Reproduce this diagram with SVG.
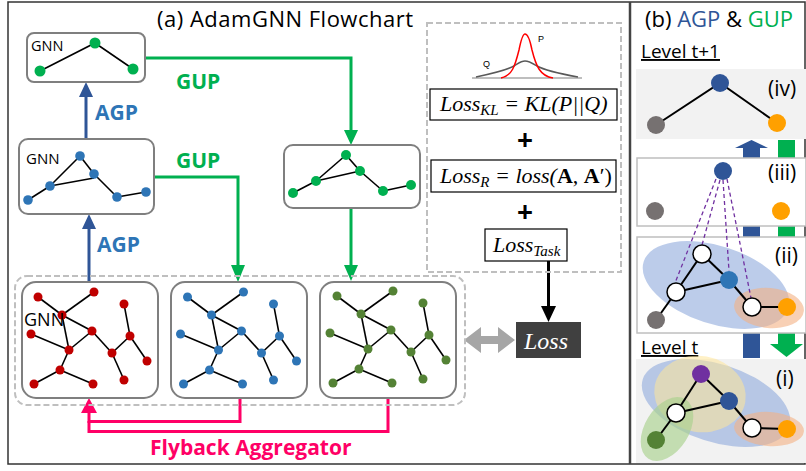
<svg xmlns="http://www.w3.org/2000/svg" xmlns:xlink="http://www.w3.org/1999/xlink" width="806" height="471" viewBox="0 0 806 471">
<style>
.box{fill:#fff;stroke:#7f7f7f;stroke-width:2}
.e{stroke:#000;stroke-width:1.6;fill:none}
.e2{stroke:#000;stroke-width:2;fill:none}
.lbl{font-family:"Open Sans","Liberation Sans",sans-serif;fill:#000}
.bold{font-family:"Open Sans","Liberation Sans",sans-serif;font-weight:bold}
.math{font-family:"Liberation Serif","DejaVu Serif",serif;font-style:italic;font-size:22px;fill:#000}
.agp{stroke:#2f5597;stroke-width:3;fill:none}
.gup{stroke:#00b050;stroke-width:3;fill:none}
.fly{stroke:#ff0066;stroke-width:3;fill:none}
.dash{fill:none;stroke:#bfbfbf;stroke-width:2;stroke-dasharray:6 3}
.pd{stroke:#7030a0;stroke-width:1.3;stroke-dasharray:4 3;fill:none}
.wn{fill:#fff;stroke:#000;stroke-width:1.5}
</style>
<defs>
<g id="big">
<g class="e">
<line x1="38" y1="297" x2="62" y2="315"/>
<line x1="94" y1="292" x2="62" y2="315"/>
<line x1="62" y1="315" x2="92" y2="331"/>
<line x1="62" y1="315" x2="69" y2="350"/>
<line x1="31" y1="334" x2="69" y2="350"/>
<line x1="69" y1="350" x2="92" y2="331"/>
<line x1="92" y1="331" x2="112" y2="353"/>
<line x1="112" y1="353" x2="130" y2="336"/>
<line x1="130" y1="336" x2="124" y2="304"/>
<line x1="130" y1="336" x2="147" y2="361"/>
<line x1="112" y1="353" x2="124" y2="380"/>
<line x1="69" y1="350" x2="60" y2="370"/>
<line x1="60" y1="370" x2="34" y2="384"/>
<line x1="60" y1="370" x2="93" y2="384"/>
</g>
<g fill="currentColor">
<circle cx="38" cy="297" r="4.5"/><circle cx="94" cy="292" r="4.5"/><circle cx="124" cy="304" r="4.5"/>
<circle cx="62" cy="315" r="4.5"/><circle cx="31" cy="334" r="4.5"/><circle cx="92" cy="331" r="4.5"/>
<circle cx="130" cy="336" r="4.5"/><circle cx="69" cy="350" r="4.5"/><circle cx="112" cy="353" r="4.5"/>
<circle cx="147" cy="361" r="4.5"/><circle cx="60" cy="370" r="4.5"/><circle cx="34" cy="384" r="4.5"/>
<circle cx="93" cy="384" r="4.5"/><circle cx="124" cy="380" r="4.5"/>
</g>
</g>
</defs>
<rect x="0" y="0" width="806" height="471" fill="#fff"/>
<rect x="8" y="2" width="797" height="462" fill="none" stroke="#333" stroke-width="1.5"/>
<line x1="630" y1="2" x2="630" y2="464" stroke="#444" stroke-width="2.5"/>

<text class="lbl" x="157" y="27" font-size="22" textLength="256">(a) AdamGNN Flowchart</text>

<g id="connectors">
<line class="agp" x1="86" y1="139" x2="86" y2="96"/>
<polygon points="79,97 93,97 86,82" fill="#2f5597"/>
<line class="agp" x1="89" y1="282" x2="89" y2="228"/>
<polygon points="82,229 96,229 89,214" fill="#2f5597"/>
<polyline class="gup" points="145,58 351,58 351,131"/>
<polygon points="344,130 358,130 351,145" fill="#00b050"/>
<polyline class="gup" points="154,177 238,177 238,266"/>
<polygon points="231,265 245,265 238,282" fill="#00b050"/>
<line class="gup" x1="351" y1="208" x2="351" y2="266"/>
<polygon points="344,265 358,265 351,281" fill="#00b050"/>
<polyline class="fly" points="240,398 240,421.5 89,421.5 89,412"/>
<polyline class="fly" points="388,398 388,431.5 89,431.5 89,421"/>
<polygon points="81,413 97,413 89,398" fill="#ff0066"/>
<line x1="548.5" y1="261" x2="548.5" y2="307" stroke="#000" stroke-width="3"/>
<polygon points="541,306 556,306 548.5,322" fill="#000"/>
<polygon points="464,340 481,327 481,336 498,336 498,327 515,340 498,353 498,344 481,344 481,353" fill="#a6a6a6"/>
</g>

<text class="bold" x="95" y="120" font-size="21" fill="#2e75b6">AGP</text>
<text class="bold" x="97" y="252" font-size="21" fill="#2e75b6">AGP</text>
<text class="bold" x="176" y="89" font-size="21" fill="#00b050">GUP</text>
<text class="bold" x="176" y="168" font-size="21" fill="#00b050">GUP</text>
<text class="bold" x="150" y="455" font-size="21" fill="#ff0066">Flyback Aggregator</text>

<g id="gnn-top">
<rect class="box" x="27" y="33" width="118" height="49" rx="7"/>
<text class="lbl" x="31" y="51" font-size="14.5">GNN</text>
<polyline class="e" points="40,71 95,43 133,69"/>
<g fill="#00b050"><circle cx="40" cy="71" r="5.5"/><circle cx="95" cy="43" r="5.5"/><circle cx="133" cy="69" r="5.5"/></g>
</g>

<g id="gnn-mid">
<rect class="box" x="19" y="139" width="135" height="75" rx="9"/>
<text class="lbl" x="26" y="164" font-size="15">GNN</text>
<g class="e">
<line x1="28" y1="200" x2="50" y2="186"/><line x1="50" y1="186" x2="80" y2="156"/><line x1="80" y1="156" x2="94" y2="174"/>
<line x1="50" y1="186" x2="94" y2="178"/><line x1="94" y1="174" x2="117" y2="197"/><line x1="117" y1="197" x2="146" y2="192"/>
</g>
<g fill="#2e75b6"><circle cx="28" cy="200" r="4.8"/><circle cx="50" cy="186" r="4.8"/><circle cx="80" cy="156" r="4.8"/><circle cx="94" cy="174" r="4.8"/><circle cx="117" cy="197" r="4.8"/><circle cx="146" cy="192" r="4.8"/></g>
</g>

<g id="gup-mid">
<rect class="box" x="284" y="145" width="136" height="63" rx="9"/>
<g class="e">
<line x1="293" y1="193" x2="316" y2="181"/><line x1="316" y1="181" x2="346" y2="155"/><line x1="346" y1="155" x2="360" y2="171"/>
<line x1="316" y1="181" x2="360" y2="171"/><line x1="360" y1="171" x2="383" y2="191"/><line x1="383" y1="191" x2="411" y2="185"/>
</g>
<g fill="#00b050"><circle cx="293" cy="193" r="5"/><circle cx="316" cy="181" r="5"/><circle cx="346" cy="155" r="5"/><circle cx="360" cy="171" r="5"/><circle cx="383" cy="191" r="5"/><circle cx="411" cy="185" r="5"/></g>
</g>

<rect class="dash" x="15" y="276" width="450" height="129" rx="12"/>

<g id="bottom-red">
<rect class="box" x="22" y="282" width="136" height="116" rx="14"/>
<use xlink:href="#big" color="#c00000"/>
<text class="lbl" x="24" y="326" font-size="18">GNN</text>
</g>
<g id="bottom-blue">
<rect class="box" x="171" y="282" width="136" height="116" rx="14"/>
<use xlink:href="#big" color="#2e75b6" transform="translate(149.5,0)"/>
</g>
<g id="bottom-green">
<rect class="box" x="320" y="282" width="136" height="116" rx="14"/>
<use xlink:href="#big" color="#548235" transform="translate(299,-1)"/>
</g>

<rect class="dash" x="427" y="23" width="194" height="249"/>
<g id="dist">
<line x1="472" y1="78" x2="582" y2="78" stroke="#7f7f7f" stroke-width="1.2"/>
<path d="M476,77 C495,73 507,70 514,66 C519,63 521,61 525,61 C529,61 532,63 537,66 C544,70 556,73 578,77" fill="none" stroke="#595959" stroke-width="1.5"/>
<path d="M501,78 C512,76 515,66 519,50 C521,40 523,34 525,34 C528,34 530,40 532,50 C536,66 540,76 553,78" fill="none" stroke="#ff0000" stroke-width="1.5"/>
<text x="483" y="67" font-family="Liberation Sans,Arial,sans-serif" font-size="9">Q</text>
<text x="538" y="42" font-family="Liberation Sans,Arial,sans-serif" font-size="9">P</text>
</g>
<g id="loss-kl">
<rect x="430" y="89" width="187" height="31" fill="#fff" stroke="#000" stroke-width="1.2"/>
<text class="math" x="440" y="111">Loss<tspan font-size="15" dy="4">KL</tspan><tspan dy="-4"> = KL(P||Q)</tspan></text>
</g>
<text class="bold" x="525" y="150" font-size="28" text-anchor="middle">+</text>
<g id="loss-r">
<rect x="431" y="160" width="185" height="32" fill="#fff" stroke="#000" stroke-width="1.2"/>
<text class="math" x="440" y="183">Loss<tspan font-size="15" dy="4">R</tspan><tspan dy="-4"> = loss(</tspan><tspan font-style="normal" font-weight="bold">A</tspan><tspan font-style="normal">, </tspan><tspan font-style="normal" font-weight="bold">A</tspan><tspan font-style="normal">′)</tspan></text>
</g>
<text class="bold" x="525" y="222" font-size="28" text-anchor="middle">+</text>
<g id="loss-task">
<rect x="485" y="229" width="82" height="32" fill="#fff" stroke="#000" stroke-width="1.2"/>
<text class="math" x="493" y="252">Loss<tspan font-size="15" dy="4">Task</tspan></text>
</g>
<g id="loss">
<rect x="516" y="322" width="65" height="36" fill="#404040"/>
<text class="math" x="524" y="349" style="fill:#fff;font-size:24px">Loss</text>
</g>

<text class="lbl" x="645" y="27" font-size="22">(b) <tspan fill="#2f5597">AGP</tspan> &amp; <tspan fill="#00b050">GUP</tspan></text>
<text class="lbl" x="641" y="58" font-size="19" text-decoration="underline">Level t+1</text>
<text class="lbl" x="641" y="354" font-size="19" text-decoration="underline">Level t</text>

<rect x="743" y="148" width="17" height="210" fill="#2f5597"/>
<polygon points="735,148 768,148 751.5,140" fill="#2f5597"/>
<rect x="778" y="140" width="17" height="205" fill="#00b050"/>
<polygon points="770,344 803,344 786.5,357" fill="#00b050"/>

<g id="panel-iv">
<rect x="636" y="69" width="170" height="70" fill="#f2f2f2"/>
<polyline class="e2" points="656,125 720,83 777,123"/>
<circle cx="656" cy="125" r="9" fill="#767171"/>
<circle cx="720" cy="83" r="9" fill="#2f5597"/>
<circle cx="777" cy="123" r="9" fill="#ffa000"/>
<text class="lbl" x="768" y="96" font-size="21">(iv)</text>
</g>

<g id="panel-iii">
<rect x="637" y="158" width="169" height="68" fill="#fff" stroke="#bfbfbf" stroke-width="1.5"/>
<text class="lbl" x="768" y="180" font-size="21">(iii)</text>
</g>

<g id="panel-ii">
<rect x="637" y="237" width="169" height="96" fill="#fff" stroke="#bfbfbf" stroke-width="1.5"/>
<ellipse cx="716" cy="285" rx="76" ry="39" transform="rotate(18 716 285)" fill="#8faadc" opacity="0.6"/>
<ellipse cx="769" cy="308" rx="35" ry="20" transform="rotate(5 769 308)" fill="#f4b183" opacity="0.6"/>
<g class="e2">
<line x1="702" y1="254" x2="676" y2="292"/><line x1="702" y1="254" x2="729" y2="280"/><line x1="676" y1="292" x2="729" y2="280"/>
<line x1="729" y1="280" x2="752" y2="307"/><line x1="752" y1="307" x2="787" y2="307"/><line x1="676" y1="292" x2="656" y2="320"/>
</g>
<text class="lbl" x="775" y="263" font-size="21">(ii)</text>
</g>

<g id="purple-dashes">
<line class="pd" x1="716" y1="179" x2="675" y2="283"/>
<line class="pd" x1="720" y1="180" x2="702" y2="245"/>
<line class="pd" x1="723" y1="180" x2="729" y2="271"/>
<line class="pd" x1="727" y1="179" x2="751" y2="298"/>
</g>

<g id="nodes-iii">
<circle cx="723" cy="171" r="9" fill="#2f5597"/>
<circle cx="655" cy="211" r="9" fill="#767171"/>
<circle cx="781" cy="211" r="9" fill="#ffa000"/>
</g>
<g id="nodes-ii">
<circle class="wn" cx="702" cy="254" r="9"/>
<circle class="wn" cx="676" cy="292" r="9"/>
<circle cx="729" cy="280" r="9" fill="#2e75b6"/>
<circle class="wn" cx="752" cy="307" r="9"/>
<circle cx="787" cy="307" r="9" fill="#ffa000"/>
<circle cx="656" cy="320" r="9" fill="#767171"/>
</g>

<g id="panel-i">
<rect x="636" y="359" width="170" height="104" fill="#f2f2f2"/>
<ellipse cx="716" cy="403" rx="77" ry="39" transform="rotate(18 716 403)" fill="#8faadc" opacity="0.6"/>
<ellipse cx="700" cy="394" rx="46" ry="38" transform="rotate(10 700 394)" fill="#ffe699" opacity="0.55"/>
<ellipse cx="667" cy="429" rx="35" ry="22" transform="rotate(-58 667 429)" fill="#a9d18e" opacity="0.65"/>
<ellipse cx="769" cy="429" rx="35" ry="17" transform="rotate(4 769 429)" fill="#f4b183" opacity="0.6"/>
<g class="e2">
<line x1="701" y1="374" x2="676" y2="413"/><line x1="701" y1="374" x2="729" y2="401"/><line x1="676" y1="413" x2="729" y2="401"/>
<line x1="729" y1="401" x2="752" y2="428"/><line x1="752" y1="428" x2="787" y2="429"/><line x1="676" y1="413" x2="656" y2="440"/>
</g>
<circle cx="701" cy="374" r="9" fill="#7030a0"/>
<circle class="wn" cx="676" cy="413" r="9"/>
<circle cx="729" cy="401" r="9" fill="#2f5597"/>
<circle class="wn" cx="752" cy="428" r="9"/>
<circle cx="787" cy="429" r="9" fill="#ffa000"/>
<circle cx="656" cy="440" r="9" fill="#548235"/>
<text class="lbl" x="776" y="386" font-size="21">(i)</text>
</g>
</svg>
